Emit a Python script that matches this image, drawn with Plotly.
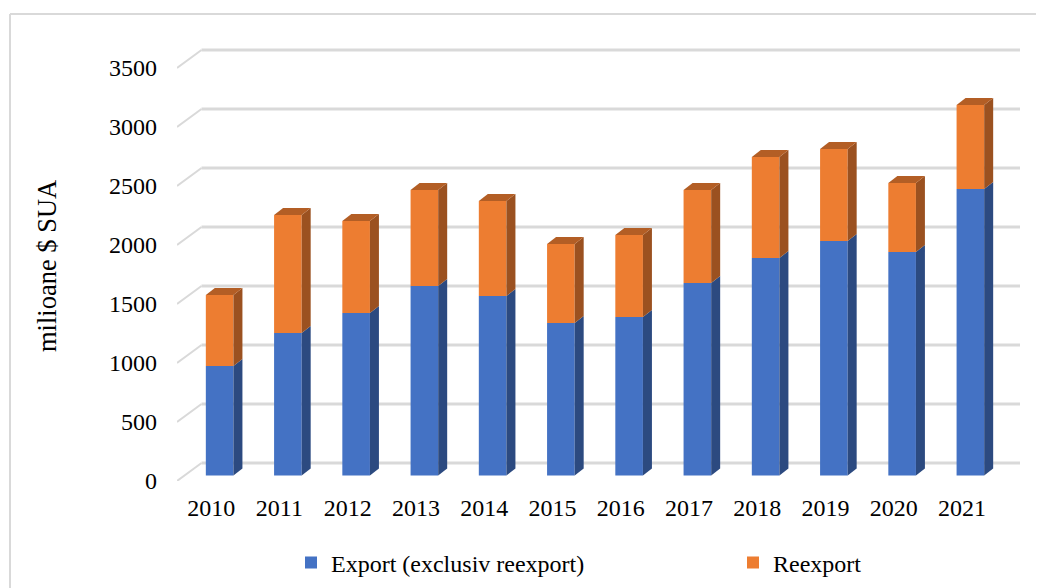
import plotly.graph_objects as go

years = ["2010", "2011", "2012", "2013", "2014", "2015", "2016", "2017", "2018", "2019", "2020", "2021"]
export_vals = [928, 1208, 1377, 1606, 1521, 1292, 1343, 1631, 1843, 1987, 1894, 2428]
reexport_vals = [602, 1000, 780, 813, 805, 670, 695, 788, 856, 780, 585, 712]
y_ticks = [0, 500, 1000, 1500, 2000, 2500, 3000, 3500]

FONT = "Liberation Serif"
PAGE = 8  # default page margin of the browser
W, H = 1044, 588
L, R, T, B = 177, 1020, 44, 481  # plot box in window pixels
X_PER_PX = 1 / 68.25
Y_PER_PX = 1 / 0.118
X0 = -0.5
X1 = X0 + (R - L) * X_PER_PX
Y1 = (B - T) * Y_PER_PX

WALL_DX, WALL_DY = 24.5 * X_PER_PX, 18 * Y_PER_PX
BAR_DX, BAR_DY = 9 * X_PER_PX, 7 * Y_PER_PX
BAR_W = 27.6 * X_PER_PX
BAR_SHIFT = 8.5 * X_PER_PX
BAR_BASE = 5.5 * Y_PER_PX

BLUE, ORANGE = "#4472C4", "#ED7D31"
BLUE_SIDE, ORANGE_SIDE = "#2C4A80", "#9B5120"
ORANGE_TOP = "#B35E25"
GRID = "#D9D9D9"


def paper_x(px):
    return (px - L) / (R - L)


def paper_y(py):
    return (B - py) / (B - T)


xs = [i + BAR_SHIFT for i in range(len(years))]

fig = go.Figure()
fig.add_bar(x=xs, y=export_vals, base=[BAR_BASE] * len(xs), width=BAR_W,
            marker=dict(color=BLUE, line_width=0), name="Export (exclusiv reexport)",
            legend="legend")
fig.add_bar(x=xs, y=reexport_vals, base=[BAR_BASE + v for v in export_vals], width=BAR_W,
            marker=dict(color=ORANGE, line_width=0), name="Reexport", legend="legend2")


def face(px, py, color):
    fig.add_scatter(x=px, y=py, mode="lines", fill="toself", fillcolor=color,
                    line=dict(width=0, color=color), showlegend=False, hoverinfo="skip")


for x, e, r in zip(xs, export_vals, reexport_vals):
    xr = x + BAR_W / 2
    xl = x - BAR_W / 2
    y_e = BAR_BASE + e
    y_t = y_e + r
    face([xr, xr + BAR_DX, xr + BAR_DX, xr, xr],
         [BAR_BASE, BAR_BASE + BAR_DY, y_e + BAR_DY, y_e, BAR_BASE], BLUE_SIDE)
    face([xr, xr + BAR_DX, xr + BAR_DX, xr, xr],
         [y_e, y_e + BAR_DY, y_t + BAR_DY, y_t, y_e], ORANGE_SIDE)
    face([xl, xr, xr + BAR_DX, xl + BAR_DX, xl],
         [y_t, y_t, y_t + BAR_DY, y_t + BAR_DY, y_t], ORANGE_TOP)

shapes = []
for v in y_ticks:
    shapes.append(dict(type="line", layer="below", xref="x", yref="y",
                       x0=X0, y0=v, x1=X0 + WALL_DX, y1=v + WALL_DY,
                       line=dict(color=GRID, width=2)))
    shapes.append(dict(type="line", layer="below", xref="x", yref="y",
                       x0=X0 + WALL_DX, y0=v + WALL_DY, x1=X1, y1=v + WALL_DY,
                       line=dict(color=GRID, width=3)))
# chart-area frame: only its top and left edges fall inside the picture
shapes.append(dict(type="line", layer="below", xref="paper", yref="paper",
                   x0=paper_x(10), x1=paper_x(1060), y0=paper_y(14), y1=paper_y(14),
                   line=dict(color=GRID, width=2)))
shapes.append(dict(type="line", layer="below", xref="paper", yref="paper",
                   x0=paper_x(10), x1=paper_x(10), y0=paper_y(14), y1=paper_y(600),
                   line=dict(color=GRID, width=2)))

legend_common = dict(orientation="h", xanchor="left", yanchor="middle",
                     font=dict(size=24, family=FONT, color="black"),
                     bgcolor="rgba(0,0,0,0)")

fig.update_layout(
    width=W, height=H, autosize=False,
    margin=dict(l=L - PAGE, r=W + PAGE - R, t=T - PAGE, b=H + PAGE - B, pad=0, autoexpand=False),
    paper_bgcolor="white", plot_bgcolor="rgba(0,0,0,0)",
    barmode="overlay",
    shapes=shapes,
    font=dict(family=FONT, size=24, color="black"),
    xaxis=dict(range=[X0, X1], tickmode="array", tickvals=list(range(len(years))),
               ticktext=years, showgrid=False, zeroline=False, showline=False,
               ticks="", ticklabelstandoff=10,
               tickfont=dict(size=24, family=FONT, color="black")),
    yaxis=dict(range=[0, Y1], tickmode="array", tickvals=y_ticks,
               ticktext=[str(v) for v in y_ticks], showgrid=False, zeroline=False,
               showline=False, ticks="", ticklen=0, ticklabelstandoff=19,
               tickfont=dict(size=24, family=FONT, color="black")),
    legend=dict(x=paper_x(291), y=paper_y(563), **legend_common),
    legend2=dict(x=paper_x(733), y=paper_y(563), **legend_common),
    annotations=[dict(text="milioane $ SUA", xref="paper", yref="paper",
                      x=paper_x(47), y=paper_y(266),
                      showarrow=False, textangle=-90, xanchor="center", yanchor="middle",
                      font=dict(size=26.5, family=FONT, color="black"))],
)

fig.write_html("out.html", post_script="document.documentElement.style.overflow='hidden';")
